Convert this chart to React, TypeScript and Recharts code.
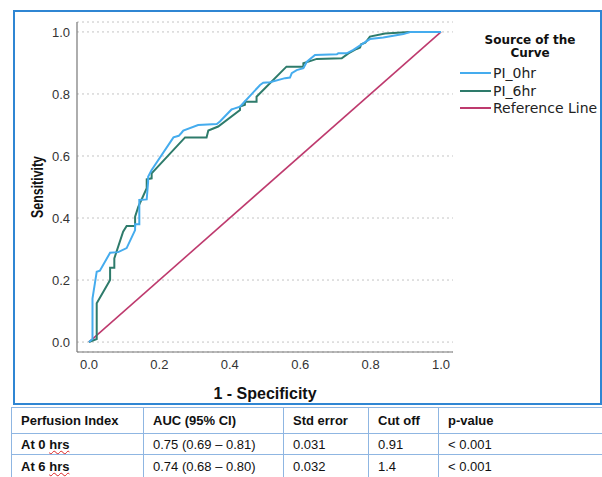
import React from 'react';
import { LineChart, Line, XAxis, YAxis, CartesianGrid, Legend } from 'recharts';

// ROC curve points: [1 - specificity, sensitivity]
const pi0hrPoints: number[][] = [
  [0, 0], [0.01, 0.01], [0.01, 0.14], [0.022, 0.227], [0.031, 0.23], [0.06, 0.288],
  [0.083, 0.29], [0.107, 0.303], [0.131, 0.361], [0.131, 0.38], [0.143, 0.38],
  [0.143, 0.458], [0.164, 0.46], [0.168, 0.517], [0.168, 0.533], [0.178, 0.555],
  [0.24, 0.66], [0.255, 0.665], [0.263, 0.675], [0.268, 0.682], [0.31, 0.7],
  [0.363, 0.703], [0.372, 0.711], [0.405, 0.75], [0.41, 0.752], [0.429, 0.759],
  [0.438, 0.77], [0.486, 0.829], [0.495, 0.836], [0.514, 0.838], [0.557, 0.851],
  [0.571, 0.853], [0.576, 0.867], [0.59, 0.877], [0.609, 0.883], [0.619, 0.904],
  [0.642, 0.926], [0.704, 0.928], [0.708, 0.931], [0.732, 0.931], [0.751, 0.942],
  [0.779, 0.963], [0.798, 0.977], [0.836, 0.982], [0.893, 0.993], [0.912, 1.0], [1.0, 1.0],
];

const pi6hrPoints: number[][] = [
  [0, 0], [0.022, 0.01], [0.022, 0.125], [0.06, 0.2], [0.06, 0.24], [0.072, 0.24],
  [0.072, 0.27], [0.097, 0.356], [0.107, 0.374], [0.131, 0.374], [0.131, 0.404],
  [0.14, 0.436], [0.164, 0.496], [0.164, 0.525], [0.178, 0.528], [0.178, 0.544],
  [0.273, 0.66], [0.334, 0.66], [0.339, 0.682], [0.367, 0.695], [0.429, 0.748],
  [0.429, 0.759], [0.443, 0.765], [0.443, 0.775], [0.476, 0.775], [0.476, 0.791],
  [0.561, 0.888], [0.609, 0.888], [0.609, 0.899], [0.647, 0.913], [0.718, 0.915],
  [0.737, 0.931], [0.76, 0.945], [0.77, 0.95], [0.773, 0.96], [0.785, 0.965],
  [0.798, 0.985], [0.841, 0.995], [0.912, 1.0], [1.0, 1.0],
];

const referencePoints: number[][] = [[0, 0], [1, 1]];

const axisTicks = [0, 0.2, 0.4, 0.6, 0.8, 1.0];

const tableHeader = ['Perfusion Index', 'AUC (95% CI)', 'Std error', 'Cut off', 'p-value'];
const tableRows = [
  ['At 0 hrs', '0.75 (0.69 \u2013 0.81)', '0.031', '0.91', '< 0.001'],
  ['At 6 hrs', '0.74 (0.68 \u2013 0.80)', '0.032', '1.4', '< 0.001'],
];

const toData = (pts: number[][]) => pts.map(([x, y]) => ({ x, y }));

const FONT = "'Liberation Sans', Arial, sans-serif";
const LEGEND_FONT = "'DejaVu Sans', Verdana, sans-serif";

const YLabel = (props: any) => {
  const vb = props.viewBox || {};
  const cx = vb.x + 10;
  const cy = vb.y + vb.height / 2;
  return (
    <text
      x={cx}
      y={cy}
      transform={`rotate(-90, ${cx}, ${cy})`}
      textAnchor="middle"
      dominantBaseline="central"
      fontFamily={FONT}
      fontWeight="bold"
      fontSize={16}
      fill="#111"
      textLength={62}
      lengthAdjust="spacingAndGlyphs"
    >
      Sensitivity
    </text>
  );
};

const XLabel = (props: any) => {
  const vb = props.viewBox || {};
  const cx = vb.x + vb.width / 2;
  const cy = vb.y + vb.height + 11;
  return (
    <text
      x={cx}
      y={cy}
      textAnchor="middle"
      dominantBaseline="central"
      fontFamily={FONT}
      fontWeight="bold"
      fontSize={16}
      fill="#111"
    >
      1 - Specificity
    </text>
  );
};

const renderLegend = (props: any) => {
  const payload = props.payload || [];
  return (
    <div style={{ fontFamily: LEGEND_FONT, color: '#111' }}>
      <div style={{ textAlign: 'center', fontWeight: 'bold', fontSize: 12, lineHeight: '13px', marginBottom: 4 }}>
        Source of the<br />Curve
      </div>
      {payload.map((p: any) => (
        <div key={p.value} style={{ display: 'flex', alignItems: 'center', height: 17.7 }}>
          <div style={{ width: 31, height: 2, background: p.color, marginLeft: 2, marginRight: 2 }} />
          <span style={{ fontSize: 14, lineHeight: '16px', whiteSpace: 'nowrap', color: '#222' }}>{p.value}</span>
        </div>
      ))}
    </div>
  );
};

export default function App() {
  return (
    <div style={{ position: 'absolute', left: 0, top: 0, width: 602, height: 477, overflow: 'hidden', background: '#fff', fontFamily: FONT }}>
      <div
        style={{
          position: 'absolute', left: 13, top: 10, width: 589, height: 395,
          boxSizing: 'border-box', border: '2px solid #2F86D3',
        }}
      />
      <div style={{ position: 'absolute', left: 0, top: 0 }}>
        <LineChart width={602} height={477} margin={{ top: 22, right: 149, bottom: 95, left: 27 }}>
          <CartesianGrid vertical={false} stroke="#c4c4c4" strokeDasharray="2 3" />
          <XAxis
            type="number"
            dataKey="x"
            domain={[-0.034, 1.034]}
            ticks={axisTicks}
            allowDataOverflow
            tickFormatter={(v: number) => v.toFixed(1)}
            tickLine={false}
            axisLine={{ stroke: '#777', strokeWidth: 1.2 }}
            tick={{ fontSize: 13, fill: '#333', fontFamily: FONT }}
            height={30}
            label={<XLabel />}
          />
          <YAxis
            type="number"
            dataKey="y"
            domain={[-0.032, 1.032]}
            ticks={axisTicks}
            allowDataOverflow
            tickFormatter={(v: number) => v.toFixed(1)}
            tickLine={false}
            axisLine={{ stroke: '#777', strokeWidth: 1.2 }}
            tick={{ fontSize: 13, fill: '#333', fontFamily: FONT }}
            tickMargin={1}
            width={50}
            label={<YLabel />}
          />
          <Legend
            layout="vertical"
            align="center"
            verticalAlign="middle"
            content={renderLegend}
            wrapperStyle={{ left: 458, top: 34, width: 144, height: 'auto' }}
          />
          <Line
            data={toData(referencePoints)}
            dataKey="y"
            name="Reference Line"
            stroke="#BE3A6E"
            strokeWidth={1.6}
            dot={false}
            isAnimationActive={false}
            legendType="line"
          />
          <Line
            data={toData(pi6hrPoints)}
            dataKey="y"
            name="PI_6hr"
            stroke="#2E7B6B"
            strokeWidth={2}
            dot={false}
            isAnimationActive={false}
            legendType="line"
          />
          <Line
            data={toData(pi0hrPoints)}
            dataKey="y"
            name="PI_0hr"
            stroke="#45ACEE"
            strokeWidth={2}
            dot={false}
            isAnimationActive={false}
            legendType="line"
          />
        </LineChart>
      </div>
      <table
        style={{
          position: 'absolute', left: 11, top: 407, borderCollapse: 'collapse', tableLayout: 'fixed',
          width: 640, fontFamily: FONT, fontSize: 13, color: '#111',
        }}
      >
        <colgroup>
          <col style={{ width: 132 }} />
          <col style={{ width: 140 }} />
          <col style={{ width: 85 }} />
          <col style={{ width: 70 }} />
          <col style={{ width: 213 }} />
        </colgroup>
        <tbody>
          <tr style={{ height: 26 }}>
            {tableHeader.map((h) => (
              <td key={h} style={{ border: '1px solid #8FB6E2', padding: '0 0 0 9px', fontWeight: 'bold', whiteSpace: 'nowrap' }}>{h}</td>
            ))}
          </tr>
          {tableRows.map((row, ri) => (
            <tr key={ri} style={{ height: ri === 0 ? 21 : 24 }}>
              {row.map((c, ci) => (
                <td key={ci} style={{ border: '1px solid #8FB6E2', padding: '0 0 0 9px', fontWeight: ci === 0 ? 'bold' : 'normal', whiteSpace: 'nowrap' }}>
                  {ci === 0 ? (
                    <>
                      {c.split(' ').slice(0, 2).join(' ')}{' '}
                      <span style={{ textDecoration: 'underline wavy #d22', textDecorationThickness: 1 }}>{c.split(' ')[2]}</span>
                    </>
                  ) : c}
                </td>
              ))}
            </tr>
          ))}
        </tbody>
      </table>
    </div>
  );
}
